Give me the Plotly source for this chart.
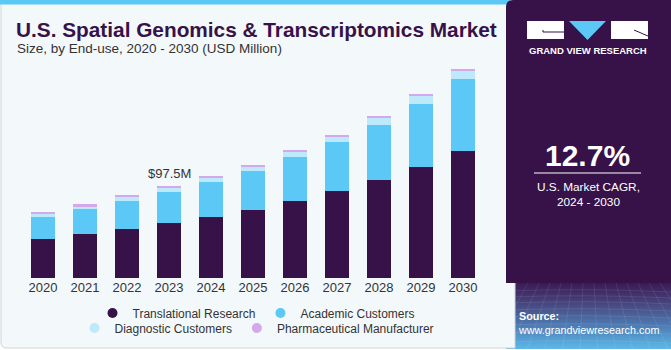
import base64
import plotly.graph_objects as go

# ---------------- data ----------------
years = ["2020", "2021", "2022", "2023", "2024", "2025", "2026", "2027", "2028", "2029", "2030"]
translational = [41.3, 46.6, 52.3, 58.0, 64.3, 71.8, 81.6, 91.8, 103.5, 117.7, 134.6]
academic = [23.6, 26.8, 29.7, 33.5, 37.1, 41.3, 46.2, 51.9, 58.3, 66.4, 75.9]
diagnostic = [2.5, 2.9, 3.6, 4.2, 5.5, 5.6, 5.8, 6.1, 8.0, 9.3, 9.2]
pharma = [2.2, 2.0, 2.2, 1.8, 1.5, 1.4, 1.6, 1.7, 1.4, 1.5, 1.4]
series_names = ["Translational Research", "Academic Customers", "Diagnostic Customers", "Pharmaceutical Manufacturer"]
callout_year = "2023"
callout_text = "$97.5M"
title_text = "U.S. Spatial Genomics & Transcriptomics Market"
subtitle_text = "Size, by End-use, 2020 - 2030 (USD Million)"
cagr_text = "12.7%"
cagr_label = "U.S. Market CAGR,<br>2024 - 2030"

# ---------------- style ----------------
C_TRANS = "#371249"
C_ACAD = "#5bc8f5"
C_DIAG = "#bde9fa"
C_PHAR = "#d4a8ec"
PANEL = "#371249"
FONT = "Liberation Sans, Arial, sans-serif"

W, H = 671, 350
L, R, T, B = 22, 187, 60, 72
PW = W - L - R
PH = H - T - B


def px(x):
    return (x - L) / PW


def py(y):
    return (H - B - y) / PH


fig = go.Figure()
series = [translational, academic, diagnostic, pharma]
colors = [C_TRANS, C_ACAD, C_DIAG, C_PHAR]
for name, vals, col in zip(series_names, series, colors):
    fig.add_trace(go.Bar(x=years, y=vals, name=name, marker=dict(color=col, line=dict(width=0)),
                         showlegend=False, hoverinfo="x+y+name"))

# legend entries (circle markers) on a hidden helper axis
for i, (name, col) in enumerate(zip(series_names, colors)):
    fig.add_trace(go.Scatter(x=[None], y=[None], mode="markers", name=name, xaxis="x2", yaxis="y2",
                             marker=dict(color=col, size=10, symbol="circle"),
                             legend="legend" if i < 2 else "legend2"))

callout_idx = years.index(callout_year)
total_callout = sum(s[callout_idx] for s in series)

shapes = []
# card
shapes.append(dict(type="path", xref="paper", yref="paper", layer="below",
                   path=f"M {px(1)},{py(0)} L {px(515)},{py(0)} L {px(515)},{py(348)} L {px(7)},{py(348)} "
                        f"Q {px(1)},{py(348)} {px(1)},{py(342)} Z",
                   fillcolor="#f3f8fb", line=dict(color="#cfd4d8", width=1)))
# top stripe
shapes.append(dict(type="rect", xref="paper", yref="paper", layer="below",
                   x0=px(0), x1=px(510), y0=py(0), y1=py(4.5), fillcolor="#5bc8f5", line=dict(width=0)))
# right panel (upper, solid)
shapes.append(dict(type="path", xref="paper", yref="paper", layer="below",
                   path=f"M {px(506)},{py(283)} L {px(506)},{py(7)} Q {px(506)},{py(0)} {px(513)},{py(0)} "
                        f"L {px(671)},{py(0)} L {px(671)},{py(283)} Z",
                   fillcolor=PANEL, line=dict(width=0)))
# logo
shapes.append(dict(type="rect", xref="paper", yref="paper", x0=px(527), x1=px(564), y0=py(39), y1=py(21),
                   fillcolor="white", line=dict(width=0)))
shapes.append(dict(type="rect", xref="paper", yref="paper", x0=px(611), x1=px(648), y0=py(39), y1=py(21),
                   fillcolor="white", line=dict(width=0)))
shapes.append(dict(type="path", xref="paper", yref="paper",
                   path=f"M {px(569)},{py(21)} L {px(606)},{py(21)} L {px(587.5)},{py(40)} Z",
                   fillcolor="#5bc8f5", line=dict(width=0)))
shapes.append(dict(type="path", xref="paper", yref="paper",
                   path=f"M {px(543)},{py(30)} L {px(543)},{py(32)} L {px(564)},{py(32)}",
                   line=dict(color=PANEL, width=1)))
shapes.append(dict(type="path", xref="paper", yref="paper",
                   path=f"M {px(634)},{py(30)} L {px(648)},{py(36)}",
                   line=dict(color=PANEL, width=1)))
# divider under CAGR
shapes.append(dict(type="line", xref="paper", yref="paper", x0=px(534), x1=px(641), y0=py(173), y1=py(173),
                   line=dict(color="white", width=1)))

# gradient bottom of panel
svg = (
    '<svg xmlns="http://www.w3.org/2000/svg" width="165" height="66" viewBox="0 0 165 66" preserveAspectRatio="none">'
    '<defs><linearGradient id="g" x1="0" y1="0" x2="0" y2="1">'
    '<stop offset="0" stop-color="#3a1a56"/><stop offset="0.3" stop-color="#47447c"/>'
    '<stop offset="0.65" stop-color="#4d7cb4"/><stop offset="1" stop-color="#5cb9e8"/>'
    '</linearGradient></defs><rect width="165" height="66" fill="url(#g)"/>'
    '<g stroke="#ffffff" stroke-opacity="0.13" stroke-width="0.7" fill="none">'
    + "".join(f'<path d="M0,{y} Q82,{y - 3} 165,{y + 1}"/>' for y in [8, 14, 20, 27, 34, 42, 50, 59])
    + "".join(f'<path d="M{x},0 L{x + (x - 82) * 0.6},66"/>' for x in range(0, 170, 11))
    + '</g></svg>'
)
svg_uri = "data:image/svg+xml;base64," + base64.b64encode(svg.encode()).decode()

annotations = [
    dict(text=f"<b>{title_text}</b>", xref="paper", yref="paper", x=px(14), y=py(29), xanchor="left",
         yanchor="middle", showarrow=False, font=dict(family=FONT, size=20.8, color="#371249")),
    dict(text=subtitle_text, xref="paper", yref="paper", x=px(15), y=py(49), xanchor="left", yanchor="middle",
         showarrow=False, font=dict(family=FONT, size=13.5, color="#333333")),
    dict(text=callout_text, x=callout_idx, y=total_callout, xref="x", yref="y", yanchor="bottom",
         showarrow=False, yshift=3, font=dict(family=FONT, size=13, color="#333333")),
    dict(text="<b>GRAND VIEW RESEARCH</b>", xref="paper", yref="paper", x=px(587.5), y=py(51), xanchor="center",
         yanchor="middle", showarrow=False, font=dict(family=FONT, size=9.5, color="white")),
    dict(text=f"<b>{cagr_text}</b>", xref="paper", yref="paper", x=px(587.5), y=py(155), xanchor="center",
         yanchor="middle", showarrow=False, font=dict(family=FONT, size=30, color="white")),
    dict(text=cagr_label, xref="paper", yref="paper", x=px(588), y=py(194), xanchor="center",
         yanchor="middle", showarrow=False, align="center", font=dict(family=FONT, size=11.8, color="white")),
    dict(text="<b>Source:</b><br>www.grandviewresearch.com", xref="paper", yref="paper", x=px(516), y=py(323),
         xanchor="left", yanchor="middle", showarrow=False, align="left",
         font=dict(family=FONT, size=10.8, color="white")),
]

fig.update_layout(
    width=W, height=H,
    margin=dict(l=L, r=R, t=T, b=B, pad=0, autoexpand=False),
    barmode="stack", bargap=0.43,
    paper_bgcolor="white", plot_bgcolor="rgba(0,0,0,0)",
    font=dict(family=FONT, color="#333333"),
    xaxis=dict(type="category", range=[-0.5, len(years) - 0.5], showgrid=False, zeroline=False,
               showline=False, ticks="", automargin=False,
               tickfont=dict(family=FONT, size=13, color="#333333"), fixedrange=True),
    yaxis=dict(range=[0, 231.1], visible=False, fixedrange=True),
    xaxis2=dict(visible=False, overlaying="x", fixedrange=True),
    yaxis2=dict(visible=False, overlaying="y", fixedrange=True),
    legend=dict(orientation="h", xref="container", yref="container", x=256 / W, xanchor="center",
                y=1 - 313 / H, yanchor="middle",
                bgcolor="rgba(0,0,0,0)", font=dict(family=FONT, size=12, color="#333333"),
                itemwidth=30, tracegroupgap=0, traceorder="normal"),
    legend2=dict(orientation="h", xref="container", yref="container", x=257 / W, xanchor="center",
                 y=1 - 328 / H, yanchor="middle",
                 bgcolor="rgba(0,0,0,0)", font=dict(family=FONT, size=12, color="#333333"),
                 itemwidth=30, tracegroupgap=0, traceorder="normal"),
    shapes=shapes,
    annotations=annotations,
    images=[dict(source=svg_uri, xref="paper", yref="paper", x=px(506), y=py(283), sizex=165 / PW,
                 sizey=66 / PH, xanchor="left", yanchor="top", sizing="stretch", layer="below")],
    showlegend=True,
)

fig.write_html("out.html", config={"displayModeBar": False})
